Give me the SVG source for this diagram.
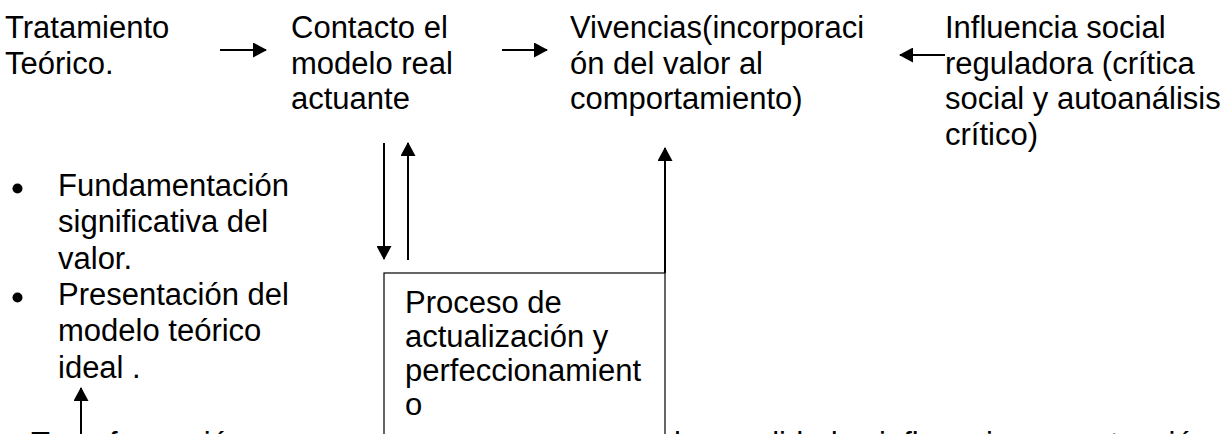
<svg xmlns="http://www.w3.org/2000/svg" width="1226" height="434" viewBox="0 0 1226 434">
<defs>
<style>
text{font-family:"Liberation Sans",Arial,sans-serif;font-size:31px;fill:#000}
.ln{stroke:#000;stroke-width:2;fill:none}
.box{fill:#fff;stroke:#000;stroke-width:1.2}
</style>
<marker id="ah" viewBox="0 0 14 15" refX="13" refY="7.5" markerWidth="14" markerHeight="15" markerUnits="userSpaceOnUse" orient="auto">
<path d="M0,0 L14,7.5 L0,15 z" fill="#000"/>
</marker>
</defs>
<rect width="1226" height="434" fill="#fff"/>
<g id="bottom-line">
<text x="31" y="454">Transformación</text>
<text x="674" y="454">las cualidades influencian su actuación</text>
</g>
<g id="n-tratamiento">
<text x="5" y="38">Tratamiento</text>
<text x="5" y="73.5">Teórico.</text>
</g>
<g id="n-contacto">
<text x="291" y="38">Contacto el</text>
<text x="291" y="73.5">modelo real</text>
<text x="291" y="109">actuante</text>
</g>
<g id="n-vivencias">
<text x="570" y="38">Vivencias(incorporaci</text>
<text x="570" y="73.5">ón del valor al</text>
<text x="570" y="109">comportamiento)</text>
</g>
<g id="n-influencia">
<text x="945" y="38">Influencia social</text>
<text x="945" y="73.5">reguladora (crítica</text>
<text x="945" y="109">social y autoanálisis</text>
<text x="945" y="144.5">crítico)</text>
</g>
<g id="n-bullets">
<circle cx="17.5" cy="188.5" r="5"/>
<text x="58" y="196">Fundamentación</text>
<text x="58" y="232">significativa del</text>
<text x="58" y="268.5">valor.</text>
<circle cx="17.5" cy="297.5" r="5"/>
<text x="58" y="305">Presentación del</text>
<text x="58" y="341">modelo teórico</text>
<text x="58" y="377.5">ideal .</text>
</g>
<g id="n-proceso">
<rect class="box" x="384" y="273" width="281" height="200"/>
<text x="405" y="313">Proceso de</text>
<text x="405" y="347">actualización y</text>
<text x="405" y="381">perfeccionamient</text>
<text x="405" y="415">o</text>
</g>
<g id="connectors">
<line class="ln" x1="220" y1="50" x2="266" y2="50" marker-end="url(#ah)"/>
<line class="ln" x1="502" y1="50" x2="547" y2="50" marker-end="url(#ah)"/>
<line class="ln" x1="945" y1="55" x2="900" y2="55" marker-end="url(#ah)"/>
<line class="ln" x1="384" y1="143" x2="384" y2="259" marker-end="url(#ah)"/>
<line class="ln" x1="408" y1="260" x2="408" y2="143" marker-end="url(#ah)"/>
<line class="ln" x1="665" y1="273" x2="665" y2="148" marker-end="url(#ah)"/>
<line class="ln" x1="81" y1="434" x2="81" y2="388" marker-end="url(#ah)"/>
</g>
</svg>
